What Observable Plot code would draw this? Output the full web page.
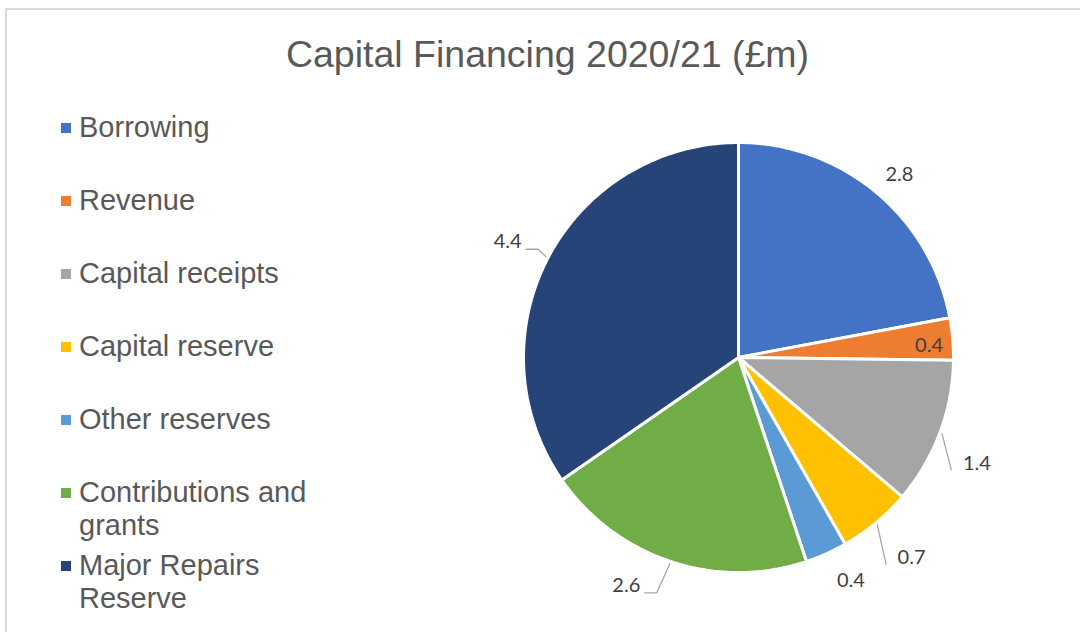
<!DOCTYPE html>
<html>
<head>
<meta charset="utf-8">
<script src="https://cdn.jsdelivr.net/npm/d3@7"></script>
<script src="https://cdn.jsdelivr.net/npm/@observablehq/plot@0.6"></script>
<style>
  html, body { margin: 0; padding: 0; background: #fff; overflow: hidden; }
  #wrap { position: relative; width: 1080px; height: 632px; overflow: hidden; font-family: "Liberation Sans", Arial, sans-serif; }
  #frame { position: absolute; left: 5px; top: 8px; width: 1200px; height: 800px; border: 2px solid #d9d9d9; box-sizing: border-box; }
  #chart { position: absolute; left: 0; top: 0; }
  #title { position: absolute; left: 0; width: 1095px; top: 32px; text-align: center; font-size: 37.5px; line-height: 44px; color: #595959; white-space: nowrap; }
  .item { position: absolute; left: 61px; width: 260px; font-size: 29px; line-height: 33px; color: #595959; }
  .sw { position: absolute; left: 0; top: 12.5px; width: 10px; height: 10px; }
  .lbl { position: absolute; left: 18px; width: 240px; }
</style>
</head>
<body>
<div id="wrap">
  <div id="frame"></div>
  <div id="chart"></div>
  <div id="title"></div>
  <div id="legend"></div>
</div>
<script>
// ---- data ----
const chartTitle = "Capital Financing 2020/21 (£m)";
const categories = ["Borrowing", "Revenue", "Capital receipts", "Capital reserve", "Other reserves", "Contributions and grants", "Major Repairs Reserve"];
const values = [2.8, 0.4, 1.4, 0.7, 0.4, 2.6, 4.4];
const valueLabels = ["2.8", "0.4", "1.4", "0.7", "0.4", "2.6", "4.4"];
const colors = ["#4472C4", "#ED7D31", "#A5A5A5", "#FFC000", "#5B9BD5", "#70AD47", "#264478"];

// ---- layout (styling, not data) ----
const cx = 738, cy = 357, R = 215;
// label placement relative to each slice's mid angle: radius (in pie radii), angle shift (deg), leader side
const labelLayout = [
  {r: 1.132, da: 1.7, leader: null},
  {r: 0.888, da: 1.3, leader: null},
  {r: 1.214, da: 3.5, leader: "right"},
  {r: 1.232, da: -1.1, leader: "right"},
  {r: 1.164, da: -2.6, leader: null},
  {r: 1.181, da: 7.8, leader: "left"},
  {r: 1.201, da: -1.0, leader: "left"}
];

const table = categories.map((c, i) => ({category: c, value: values[i], label: valueLabels[i]}));
const arcs = d3.pie().sort(null).value(d => d.value)(table);

const pt = (a, r) => ({x: r * Math.sin(a), y: r * Math.cos(a)});
const deg = Math.PI / 180;

// slice polygons
const slicePts = [];
arcs.forEach(a => {
  const c = a.data.category;
  slicePts.push({category: c, x: 0, y: 0});
  const n = Math.max(2, Math.ceil((a.endAngle - a.startAngle) / deg));
  for (let k = 0; k <= n; k++) {
    const ang = a.startAngle + (a.endAngle - a.startAngle) * k / n;
    slicePts.push({category: c, ...pt(ang, 1)});
  }
  slicePts.push({category: c, x: 0, y: 0});
});

// labels and leaders
const labels = [];
const leaders = [];
const px = 1 / R;
arcs.forEach((a, i) => {
  const L = labelLayout[i];
  const mid = (a.startAngle + a.endAngle) / 2;
  const p = pt(mid + L.da * deg, L.r);
  labels.push({label: a.data.label, x: p.x, y: p.y});
  if (L.leader) {
    const s = pt(mid, 1.011);
    const halfW = 14.5 * px;
    let path;
    if (L.leader === "right") {
      const e = {x: p.x - halfW - 11 * px, y: p.y - 6 * px};
      path = [s, e];
    } else {
      const e = {x: p.x + halfW + 4 * px, y: p.y - 7.5 * px};
      const el = {x: e.x + 12 * px, y: e.y};
      path = [s, el, e];
    }
    path.forEach(q => leaders.push({id: i, x: q.x, y: q.y}));
  }
});

const chart = Plot.plot({
  width: 1080,
  height: 632,
  margin: 0,
  style: {background: "transparent", overflow: "visible"},
  x: {domain: [-1, 1], range: [cx - R, cx + R], axis: null},
  y: {domain: [-1, 1], range: [cy + R, cy - R], axis: null},
  color: {domain: categories, range: colors},
  marks: [
    Plot.line(slicePts, {x: "x", y: "y", z: "category", fill: "category", stroke: "white", strokeWidth: 3, strokeLinejoin: "miter", curve: "linear"}),
    Plot.line(leaders, {x: "x", y: "y", z: "id", stroke: "#A6A6A6", strokeWidth: 1.3, curve: "linear"}),
    Plot.text(labels, {x: "x", y: "y", text: "label", fontSize: 20, fill: "#404040", fontFamily: "Lato, 'Open Sans', sans-serif"})
  ]
});
document.getElementById("chart").appendChild(chart);

document.getElementById("title").textContent = chartTitle;

const legend = document.getElementById("legend");
categories.forEach((c, i) => {
  const item = document.createElement("div");
  item.className = "item";
  item.style.top = (110.5 + 73 * i) + "px";
  const sw = document.createElement("div");
  sw.className = "sw";
  sw.style.background = colors[i];
  const t = document.createElement("div");
  t.className = "lbl";
  t.textContent = c;
  item.appendChild(sw);
  item.appendChild(t);
  legend.appendChild(item);
});
</script>
</body>
</html>
